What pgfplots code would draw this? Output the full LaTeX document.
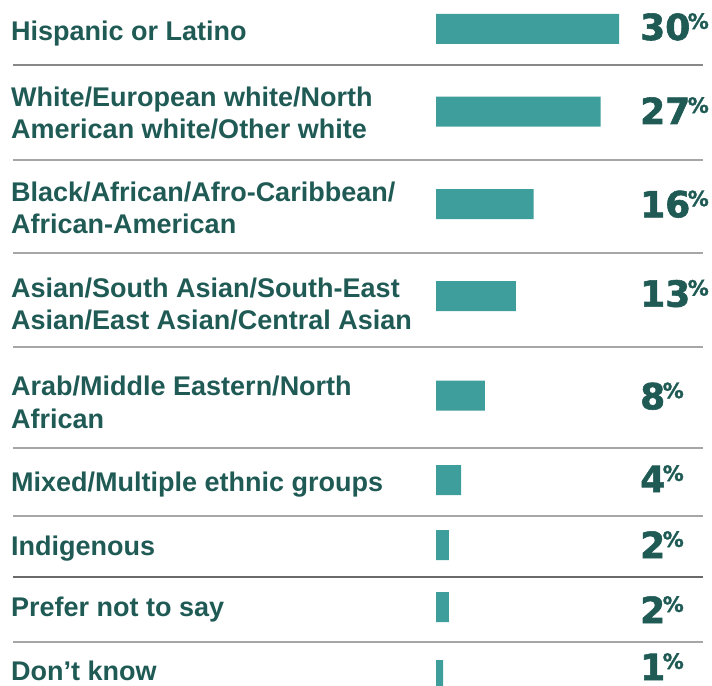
\documentclass[border=0pt]{standalone}
\usepackage{pgfplots}
\pgfplotsset{compat=1.18}
\usepackage{pgfplotstable}
\usepackage{fontspec}
\setmainfont{Liberation Sans}
\newfontfamily\numfont{DejaVu Sans}[BoldFeatures={FakeBold=1.6}]
\definecolor{barc}{HTML}{3D9E9C}
\definecolor{txt}{HTML}{1F5A55}
\definecolor{sepc}{HTML}{A6A6A6}
\definecolor{sepd}{HTML}{6A6A6A}

\newcommand\labfont{\bfseries\fontsize{27bp}{31bp}\selectfont}
\newcommand\valtext[1]{{\numfont\bfseries\fontsize{36bp}{40bp}\selectfont #1\kern-2.5bp\raisebox{11.2bp}{\fontsize{21bp}{22bp}\selectfont\%}}}

% y = row position (pixels from top), v = bar length (%), ly = value label centre, lab = printed value, lx = label x
\pgfplotstableread{
y     v     ly     lab  lx
28.8  30    27     30   33.44
111.7 27    111    27   33.44
204   16    204.3  16   33.44
296   13.1  293.7  13   33.44
395.7 8     396.3  8    33.44
480   4.1   479    4    33.44
545   2.1   545    2    33.44
607   2.1   610    2    33.44
675   1.15  667    1    33.44
}\data

\begin{document}
\begin{tikzpicture}
\begin{axis}[
  scale only axis, width=712bp, height=686bp,
  xmin=-71.4754, xmax=45.2459, ymin=0, ymax=686, y dir=reverse,
  hide axis, clip=true,
]
\newcommand\lab[2]{\node[anchor=base west, inner sep=0pt, text=txt, font=\labfont] at (axis cs:-69.67,#1) {#2};}
\pgfplotsinvokeforeach{160,253.3,346.7,448,515.7,641.7}{
  \draw[sepc, line width=2bp] (axis cs:-69.34,#1) -- (axis cs:43.77,#1);
}
\draw[sepd!80!white, line width=2bp] (axis cs:-69.34,65.3) -- (axis cs:43.77,65.3);
\draw[sepd, line width=2bp] (axis cs:-69.34,577) -- (axis cs:43.77,577);

\addplot[xbar, bar width=30, fill=barc, draw=none] table[x=v, y=y]{\data};

\addplot[only marks, mark=none, point meta=explicit symbolic,
  nodes near coords={\valtext{\pgfplotspointmeta}},
  nodes near coords style={anchor=base west, inner sep=0pt, text=txt, yshift=-13bp}]
  table[x=lx, y=ly, meta=lab]{\data};

\lab{40.7}{Hispanic or Latino}
\lab{106.7}{White/European white/North}
\lab{138.3}{American white/Other white}
\lab{201.7}{Black/African/Afro-Caribbean/}
\lab{233.3}{African-American}
\lab{297.7}{Asian/South Asian/South-East}
\lab{329}{Asian/East Asian/Central Asian}
\lab{395.7}{Arab/Middle Eastern/North}
\lab{428.3}{African}
\lab{491.7}{Mixed/Multiple ethnic groups}
\lab{555}{Indigenous}
\lab{616.7}{Prefer not to say}
\lab{680}{Don’t know}
\end{axis}
\pgfresetboundingbox
\path[use as bounding box] (current axis.south west) rectangle (current axis.north east);
\end{tikzpicture}
\end{document}
